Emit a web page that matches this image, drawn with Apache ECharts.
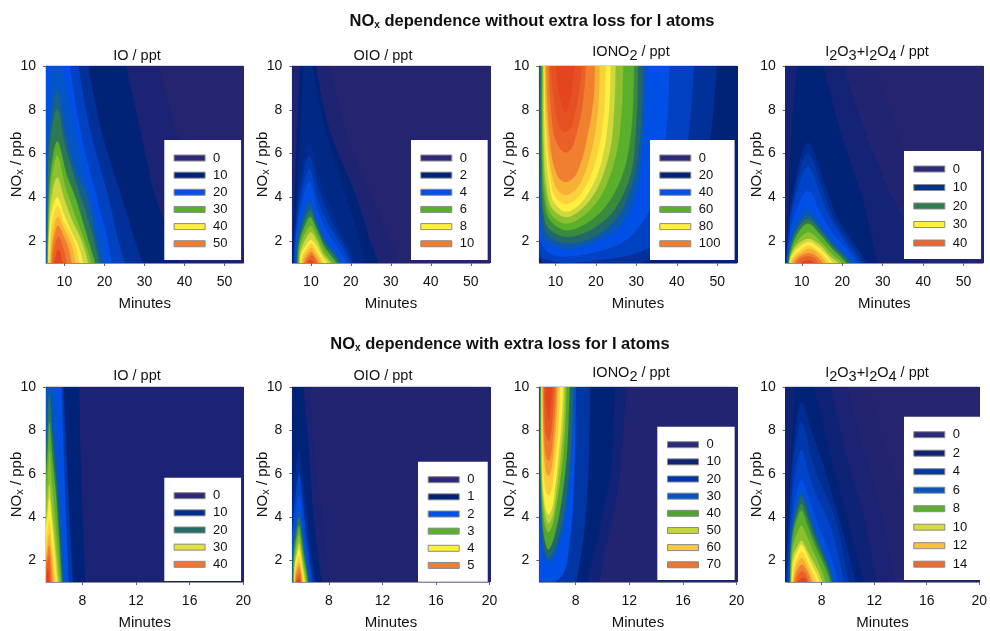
<!DOCTYPE html>
<html><head><meta charset="utf-8">
<style>html,body{margin:0;padding:0;background:#fff}#c{width:990px;height:631px}</style>
<script src="https://cdn.jsdelivr.net/npm/echarts@6/dist/echarts.min.js"></script>
</head><body><div id="c"></div>
<script>
// Colour ramp: share of the panel's peak value -> colour
const rampShare=[0,.04,.085,.125,.167,.25,.33,.38,.42,.46,.5,.56,.62,.667,.72,.78,.83,.9,1];
const rampColor=['#25246f','#23246f','#1c2374','#0f2376','#002277','#0038aa','#0050e8','#0a58b0','#22686a','#3a8a3e','#5ab02a','#8cc030','#d0d840','#fff040','#fbd23c','#f5b035','#f08030','#e96028','#e03a1a'];

// Contour outlines: [share of peak, minutes, NOx, minutes, NOx, ...]
const ioA=[
[.085,4,10.5,33.2,10.5,33.5,10,38.5,6.6,43,4.3,49,2.6,56,1.5,60,.5,4,.5],
[.167,4,10.5,25,10.5,25.4,10,29,7,32.7,4,37,2,39.5,.5,4,.5],
[.22,4,10.5,15.7,10.5,16,10,19.3,7,24.3,4,27.7,2,30.5,.5,4,.5],
[.28,4,10.5,13.2,10.5,13.5,10,16.5,7,21,4,23.5,2,26,.5,4,.5],
[.33,4,10.5,11.2,10.5,11.4,10,14,7,18,4,20.8,2,22.2,.5,4,.5],
[.36,6.4,10.5,6.6,10,6,7,5.6,4,5.4,.5,21,.5,19.6,2,16.5,4,12.6,7,9.3,10,9.1,10.5],
[.40,5.55,.5,5.65,3,6.2,7,8.2,8.9,10.2,7,12.6,5.3,15.8,4,18,2,20,.5],
[.44,5.65,.5,5.75,3,6.4,6.5,8.2,8.05,10,6.5,12.3,5,15,3.5,17.4,2,19.2,.5],
[.5,5.75,.5,5.85,2,6.5,5,8.2,6.55,10.6,5,12.7,4,16,2,18.5,.5],
[.56,5.85,.5,5.95,2,6.6,4.5,8.2,5.9,10.2,4.5,12.2,3.4,15,2,17.6,.5],
[.62,5.95,.5,6.05,2,6.7,3.9,8.2,4.9,10,3.9,11.8,3,14.3,2,16.6,.5],
[.667,6.05,.5,6.15,2,6.8,3.3,8.2,4,9.9,3.2,11.3,2.6,13.6,1.7,15.2,.5],
[.72,6.25,.5,6.35,1.5,7,2.9,8.3,3.6,9.8,2.9,10.5,2.7,12.6,1.9,14.2,.5],
[.78,6.45,.5,6.6,1.5,7.2,2.5,8.4,3.1,9.8,2.6,11.8,1.8,13.2,.5],
[.83,6.65,.5,6.8,1.4,7.4,2.2,8.4,2.7,9.6,2.3,11,1.7,12.2,.5],
[.9,6.95,.5,7.1,1.2,7.6,1.8,8.5,2.2,9.5,1.8,10.4,1.2,11.2,.5],
[.97,7.4,.5,7.6,1.1,8.5,1.6,9.4,1.1,10.2,.5]];
const oioA=[
[.07,4,10.5,14.5,10.5,14.75,10,18.5,7,25,4,29.7,2,33,.5,4,.5],
[.167,7.1,10.5,7.2,10,6.6,7,5.9,4,5.2,.5,28,.5,24.8,2,21.4,4,14.75,7,11.2,10,11,10.5],
[.19,8,10.5,8.1,10,7.3,7,6.4,4,5.5,.5,24,.5,21.5,2.5,18,4.5,13,7.5,10.5,10,10.3,10.5],
[.21,5.6,.5,5.8,2,7,4.5,9.6,6.55,12,5,15,3.5,20,1.5,22.3,.5],
[.25,5.7,.5,5.9,2,7.2,4.2,9.6,5.9,11.8,4.5,14.5,3.2,19.5,1.4,21.5,.5],
[.29,5.85,.5,6,2,7.4,3.9,9.6,5.3,11.7,3.9,14,2.9,18.8,1.4,20.7,.5],
[.33,6,.5,6.2,2,7.6,3.6,9.6,4.7,11.5,3.5,13.8,2.5,18,1.3,19.8,.5],
[.36,6.2,.5,6.4,2,7.8,3.2,9.6,3.95,11.5,3,13.8,2.1,17.4,1.2,19,.5],
[.40,6.35,.5,6.6,1.8,8,3,9.7,3.7,11.4,2.9,13.6,2,16.8,1.2,18.5,.5],
[.44,6.5,.5,6.8,1.8,8.1,2.8,9.8,3.4,11.4,2.7,13.4,1.9,16.4,1.2,18.2,.5],
[.5,6.65,.5,7,1.8,8.3,2.6,9.8,3.1,11.5,2.5,13.5,1.7,16.4,1,17.8,.5],
[.56,6.9,.5,7.2,1.6,8.4,2.3,9.9,2.7,11.5,2.2,13.3,1.5,15.4,1,16.5,.5],
[.62,7.1,.5,7.4,1.5,8.6,2.05,10,2.4,11.5,2,13,1.4,14.8,1,15.7,.5],
[.667,7.25,.5,7.6,1.4,8.8,1.8,10,2.05,11.4,1.75,12.8,1.3,14.3,.9,15.1,.5],
[.72,7.55,.5,7.8,1.3,8.9,1.65,10,1.9,11.3,1.6,12.6,1.2,14.5,.5],
[.78,7.85,.5,8.1,1.2,9.1,1.5,10.1,1.7,11.2,1.45,12.3,1.1,13.5,.5],
[.83,8.2,.5,8.4,1.1,9.3,1.35,10.1,1.5,11,1.3,11.9,1,12.8,.5],
[.9,8.5,.5,8.7,1,9.6,1.25,10.2,1.35,10.9,1.2,11.4,1,11.9,.5],
[.97,8.7,.5,9,.95,10,1.15,10.6,1,11.1,.5]];
const ionoA=[
[.22,5,10.5,5,1.5,7,1,10,.8,20,.85,33,1.1,42,2,46,4,48.5,7,50.2,10.5],
[.28,5,10.5,5.3,2,6.5,1.3,9,1.1,13,1.02,20,1.12,30,1.45,37,2.2,41,4.2,43,7,44.5,10.5],
[.33,5.5,10.5,5.6,3,6.5,1.9,9,1.4,13,1.3,20,1.5,27,2,32,3,36,5,37.6,7.5,38.3,10.5],
[.38,5.95,10.5,6,5,6.4,2.8,7.5,2,12.5,1.65,19,1.9,26,2.7,30,4.3,31.8,7,32.3,10.5],
[.42,6.2,10.5,6.3,5,6.8,3.2,8,2.3,12.5,1.9,19,2.15,25,3,29,4.6,31,7,31.7,10.5],
[.46,6.4,10.5,6.45,6,7,3.4,8.3,2.6,12.5,2.2,18,2.45,24,3.3,28.5,5,30,7.5,30.5,10.5],
[.5,6.6,10.5,6.7,6,7.2,4,8.5,3,12.5,2.5,17,2.75,22,3.5,26.5,5,28.7,7,29.5,10.5],
[.56,6.85,10.5,6.9,6,7.5,4.2,9,3.2,12.5,2.8,16.5,3.1,21,4,24.7,5.7,26.3,7.8,26.8,10.5],
[.62,7,10.5,7.1,6.5,7.7,4.6,9.2,3.5,12.5,3.1,16,3.4,20,4.3,23.3,6,24.5,8,24.9,10.5],
[.667,7.1,10.5,7.4,7,8.3,4.9,9.6,3.8,12.5,3.35,15.5,3.6,18.1,4.2,21,5.4,23,7.5,23.7,10.5],
[.72,7.25,10.5,7.6,7,8.6,5,10,4,12.5,3.7,15.3,3.95,17.7,4.6,20,5.7,21.9,7.7,22.5,10.5],
[.78,7.35,10.5,7.8,7.5,9,5.2,10.5,4.35,12.5,4.1,15,4.35,17,5,19,6.2,20.5,8,21,10.5],
[.83,7.6,10.5,8.1,8,9.4,5.6,11,4.85,12.5,4.7,14.5,4.9,16.3,5.6,18,6.9,19.4,8.5,19.8,10.5],
[.9,8.3,10.5,8.7,8.5,9.9,6.7,11.5,6.15,12.5,6.05,13.8,6.2,15.3,7,16.8,8.4,17.7,10.5],
[.94,8.7,10.5,9.3,9,10.4,7.6,11.6,7.05,12.5,7,13.8,7.2,15,8,16.1,9.2,16.7,10.5],
[.97,10,10.5,10.3,9.7,11.2,8.5,12.5,7.9,13.5,8.4,14.3,9.3,14.9,10.5]];
const i2oxA=[
[.06,4,10.5,27.9,10.5,28.1,10,35,6.2,42,3.8,48,2.3,55,1.3,60,.5,4,.5],
[.11,4,10.5,20.1,10.5,20.3,10,25.5,7,31,4.5,35,3,39,1,40,.5,4,.5],
[.167,8.7,10.5,8.8,10,7.5,7,6.8,4,6,.5,29,.5,28,1.5,24.8,4,19.5,7,15.3,10,15.1,10.5],
[.21,5.9,.5,6.2,1.5,7.6,4,11.5,6.5,15.5,4.7,19,3,24,1.6,28,.5],
[.25,6,.5,6.3,1.5,7.8,3.9,11.5,6,15,4.4,18,3,23,1.6,27,.5],
[.29,6.1,.5,6.4,1.5,8,3.7,11.5,5.4,15,3.9,17.5,2.9,22.5,1.5,26.2,.5],
[.33,6.2,.5,6.5,1.5,8.2,3.2,11.5,4.3,14.8,3.2,17.5,2.4,22,1.4,25,.5],
[.36,6.3,.5,6.6,1.4,8.4,2.8,11.5,3.5,14.6,2.8,17.5,2.1,22,1.2,24.6,.5],
[.40,6.4,.5,6.7,1.4,8.6,2.6,11.5,3.2,14.5,2.6,17.5,1.9,21.5,1.2,24.2,.5],
[.44,6.5,.5,6.8,1.4,8.7,2.5,11.5,3,14.5,2.5,17.5,1.8,21,1.15,23.5,.5],
[.5,6.6,.5,6.95,1.3,8.8,2.3,11.5,2.8,14.5,2.3,17.5,1.65,20.5,1.1,22.7,.5],
[.56,6.75,.5,7.1,1.3,8.9,2,11.6,2.4,14.5,2,17.5,1.4,19.7,1.05,21.7,.5],
[.62,6.9,.5,7.2,1.3,9,1.85,11.6,2.1,14.3,1.85,17,1.3,19,1,20.6,.5],
[.667,7,.5,7.3,1.2,9.2,1.7,11.7,1.95,14.2,1.7,16.8,1.2,19.7,.5],
[.72,7.2,.5,7.5,1.2,9.3,1.55,11.7,1.8,14,1.55,16.2,1.15,18.5,.5],
[.78,7.4,.5,7.8,1.15,9.6,1.45,11.8,1.65,13.9,1.45,15.6,1.1,17.3,.5],
[.83,7.9,.5,8.3,1.1,9.9,1.35,11.8,1.45,13.6,1.3,14.9,1.05,16,.5],
[.9,8.3,.5,8.8,1.05,10.2,1.25,11.9,1.3,13.2,1.2,14,1,14.9,.5],
[.97,9.3,.5,9.9,1,11,1.1,12,1.12,12.9,1,13.6,.5]];
const ioB=[
[.167,4,10.5,7.72,10.5,7.95,5,8.25,.5,4,.5],
[.25,4,10.5,6.55,10.5,6.88,6,7.32,.5,4,.5],
[.33,4,10.5,6.42,10.5,6.65,6,7,.5,4,.5],
[.36,5.35,10.5,5.98,10.5,6.3,6,6.75,.5,4,.5,4,6],
[.40,5.2,.5,5.2,5,5.38,8,5.54,10,5.75,8,6.2,5,6.62,.5],
[.44,5.2,.5,5.2,5,5.4,8,5.54,9.6,5.72,8,6.12,5,6.55,.5],
[.5,5.2,.5,5.2,5,5.42,7,5.54,8.4,5.72,7,6.03,5,6.5,.5],
[.56,5.15,.5,5.2,4,5.42,5.8,5.54,7,5.7,5.8,5.95,4,6.42,.5],
[.62,5.15,.5,5.2,3,5.42,4.6,5.54,5.5,5.7,4.4,5.92,3,6.3,.5],
[.667,5.15,.5,5.22,3,5.42,4.1,5.54,4.8,5.68,4,5.9,2.5,6.16,.5],
[.72,5.15,.5,5.25,2.5,5.42,3.4,5.54,3.9,5.67,3.2,5.85,2,6.06,.5],
[.78,5.15,.5,5.27,2,5.43,2.8,5.54,3.2,5.64,2.7,5.78,1.8,5.93,.5],
[.83,5.15,.5,5.28,1.8,5.43,2.4,5.52,2.7,5.62,2.3,5.7,1.6,5.82,.5],
[.9,5.15,.5,5.3,1.5,5.42,2,5.5,2.2,5.58,1.8,5.69,.5],
[.97,5.15,.5,5.33,1.2,5.45,1.6,5.52,1.2,5.57,.5]];
const oioB=[
[.085,4,10.5,6.55,10.5,6.83,7,7.45,4,8.05,.5,4,.5],
[.167,5.4,10.5,5.35,10,5.15,6,5.1,.5,7.55,.5,6.83,4,6.5,7,6.08,10,6.05,10.5],
[.21,5.2,.5,5.2,4,5.45,6,5.76,7.1,6,6,6.38,4,6.75,2,7.15,.5],
[.29,5.2,.5,5.24,3,5.5,5,5.76,6,5.98,5,6.25,3.5,6.6,1.8,6.9,.5],
[.33,5.22,.5,5.28,3,5.52,4.3,5.76,5,5.96,4.2,6.2,3,6.5,1.7,6.75,.5],
[.38,5.24,.5,5.3,2.5,5.55,3.8,5.76,4.4,5.95,3.7,6.15,2.7,6.42,1.5,6.63,.5],
[.44,5.28,.5,5.34,2.5,5.57,3.5,5.76,4,5.93,3.4,6.12,2.5,6.38,1.4,6.58,.5],
[.5,5.33,.5,5.38,2.2,5.58,3.1,5.76,3.6,5.92,3,6.1,2.2,6.35,1.3,6.52,.5],
[.56,5.37,.5,5.42,2,5.6,2.8,5.76,3.2,5.9,2.7,6.06,2,6.25,1.3,6.42,.5],
[.62,5.4,.5,5.44,1.8,5.62,2.45,5.76,2.8,5.9,2.4,6.03,1.8,6.2,1.2,6.33,.5],
[.667,5.42,.5,5.47,1.7,5.62,2.2,5.76,2.5,5.88,2.15,6,1.6,6.15,1.1,6.25,.5],
[.72,5.44,.5,5.49,1.6,5.63,2,5.76,2.2,5.87,1.95,5.98,1.5,6.18,.5],
[.78,5.46,.5,5.52,1.5,5.65,1.75,5.76,1.9,5.86,1.7,5.96,1.3,6.08,.5],
[.83,5.48,.5,5.54,1.3,5.66,1.55,5.76,1.7,5.85,1.5,5.93,1.2,6,.5],
[.9,5.5,.5,5.58,1.15,5.7,1.3,5.78,1.4,5.85,1.25,5.9,1,5.95,.5],
[.97,5.52,.5,5.6,1,5.72,1.15,5.78,1.15,5.82,1,5.88,.5]];
const ionoB=[
[.12,4,10.5,11.85,10.5,11.06,5,10.2,2.5,9.6,.5,4,.5],
[.167,4,10.5,10.95,10.5,10.56,6,9.2,2,8.8,.5,4,.5],
[.24,4,10.5,9.08,10.5,8.95,6,8.57,3,7.9,.5,4,.5],
[.33,4,10.5,8.02,10.5,7.9,6,7.58,3,7.08,1.4,6.3,.95,5.9,.9,5.1,1,4,1],
[.38,5.34,10.5,5.36,5,5.5,3,5.7,2.2,5.96,1.9,6.3,2.1,6.7,2.7,7.1,3.6,7.5,5.5,7.75,7.5,7.85,10.5],
[.42,5.37,10.5,5.39,5,5.5,3.2,5.7,2.4,5.96,2.1,6.3,2.35,6.7,3,7.1,4.1,7.5,6,7.72,8,7.83,10.5],
[.49,5.39,10.5,5.41,5.5,5.55,3.6,5.75,2.8,5.96,2.5,6.25,2.8,6.6,3.6,7,5,7.35,7,7.58,10.5],
[.56,5.42,10.5,5.44,6,5.58,4.3,5.78,3.5,5.98,3.3,6.25,3.6,6.55,4.5,6.9,6,7.2,8,7.33,10.5],
[.61,5.44,10.5,5.47,6.5,5.6,4.7,5.8,3.95,5.98,3.7,6.25,4,6.5,4.9,6.82,6.5,7.1,8.5,7.2,10.5],
[.667,5.46,10.5,5.49,7,5.62,5,5.82,4.3,5.98,4.1,6.22,4.4,6.47,5.4,6.75,7,7,9,7.08,10.5],
[.73,5.5,10.5,5.53,7.5,5.66,5.7,5.84,5.1,6,5,6.2,5.3,6.4,6.2,6.65,7.7,6.88,10.5],
[.8,5.55,10.5,5.58,8,5.72,6.4,5.88,5.95,6,5.9,6.18,6.2,6.35,7,6.55,8.5,6.7,10.5],
[.85,5.58,10.5,5.62,8.3,5.75,7,5.9,6.65,6,6.6,6.16,6.9,6.32,7.8,6.48,9,6.58,10.5],
[.92,5.62,10.5,5.68,8.7,5.8,7.8,5.98,7.5,6.14,7.8,6.28,8.7,6.46,10.5],
[.97,5.75,10.5,5.82,9.2,6,8.5,6.15,9.2,6.3,10.5]];
const i2oxB=[
[.04,4,10.5,11.4,10.5,12.1,8.6,13.4,6,15,3.7,17,2,20,1,22,.5,4,.5],
[.085,4,10.5,9.65,10.5,11.2,7,12.2,5,12.9,3,13.7,.5,4,.5],
[.125,4,10.5,8.5,10.5,9.8,7,11.2,4,12.3,.5,4,.5],
[.167,6,10.5,5.7,7,5.4,4,5.1,.5,11.4,.5,9.9,4,8.6,7,7.2,10.5],
[.21,5.2,.5,5.5,4,5.8,7,6.46,9.3,7.2,8,7.8,7,9.3,4,10.8,.5],
[.25,5.25,.5,5.55,4,5.9,6.8,6.46,8.4,7.1,7,7.6,6,9,4,10.2,.5],
[.29,5.35,.5,5.6,3.5,5.95,5.9,6.46,7.1,7,6,7.6,5,8.7,3.5,9.9,.5],
[.33,5.5,.5,5.65,3,6,4.9,6.46,5.7,7,4.9,7.8,3.5,8.8,2,9.45,.5],
[.38,5.52,.5,5.68,3,6.02,4.5,6.46,5.2,6.95,4.5,7.6,3.3,8.6,1.8,9.2,.5],
[.42,5.55,.5,5.7,3,6.03,4.3,6.46,4.95,6.9,4.3,7.5,3.2,8.5,1.7,9.05,.5],
[.46,5.57,.5,5.72,3,6.05,4,6.46,4.6,6.88,4,7.45,3,8.45,1.6,8.95,.5],
[.5,5.58,.5,5.75,2.8,6.07,3.8,6.46,4.3,6.86,3.7,7.4,2.8,8.35,1.5,8.85,.5],
[.56,5.62,.5,5.78,2.5,6.1,3.2,6.46,3.6,6.8,3.2,7.3,2.5,8,1.5,8.55,.5],
[.62,5.66,.5,5.82,2.2,6.12,2.6,6.46,2.9,6.78,2.6,7.2,2.1,7.8,1.4,8.3,.5],
[.667,5.68,.5,5.85,1.9,6.15,2.4,6.46,2.7,6.78,2.4,7.15,1.9,7.65,1.3,8.12,.5],
[.72,5.72,.5,5.9,1.7,6.18,2.15,6.46,2.4,6.75,2.15,7.1,1.7,7.5,1.2,7.9,.5],
[.78,5.76,.5,5.95,1.5,6.2,1.9,6.5,2.1,6.75,1.9,7.05,1.5,7.7,.5],
[.83,5.82,.5,6,1.3,6.25,1.65,6.5,1.8,6.75,1.65,7,1.35,7.45,.5],
[.9,5.95,.5,6.1,1.15,6.3,1.4,6.5,1.5,6.72,1.4,6.95,1.1,7.22,.5],
[.97,6.05,.5,6.2,1,6.45,1.15,6.65,1.2,6.85,1.05,7.02,.5]];

// Tick labels
const minutesTicksA=[10,20,30,40,50];
const minutesTicksB=[8,12,16,20];
const noxTicks=[2,4,6,8,10];

// Legend labels
const legendIOa=[0,10,20,30,40,50];
const legendOIOa=[0,2,4,6,8,10];
const legendIONOa=[0,20,40,60,80,100];
const legendI2Oa=[0,10,20,30,40];
const legendIOb=[0,10,20,30,40];
const legendOIOb=[0,1,2,3,4,5];
const legendIONOb=[0,10,20,30,40,50,60,70];
const legendI2Ob=[0,2,4,6,8,10,12,14];

const FONT='"Liberation Sans", Arial, sans-serif';
const rich={
 a:{fontFamily:FONT,fontSize:14.5,fontWeight:'normal',color:'#111'},
 d:{fontFamily:FONT,fontSize:14.5,fontWeight:'normal',color:'#111',padding:[8,0,0,0],verticalAlign:'bottom'}
};
const titleIO='{a|IO / ppt}', titleOIO='{a|OIO / ppt}',
 titleIONO='{a|IONO}{d|2}{a| / ppt}', titleI2O='{a|I}{d|2}{a|O}{d|3}{a|+I}{d|2}{a|O}{d|4}{a| / ppt}';

const panels=[
 {id:'a1',t:titleIO,tt:48,left:46,top:66,h:197,xr:[5.4,54.7],ticks:minutesTicksA,peak:60,base:0,c:ioA,lab:legendIOa,box:[164.3,140,76.4,120],cx:137},
 {id:'a2',t:titleOIO,tt:48,left:292.3,top:66,h:197,xr:[5.35,54.7],ticks:minutesTicksA,peak:12,base:0,c:oioA,lab:legendOIOa,box:[411,140,76.3,120],cx:383},
 {id:'a3',t:titleIONO,tt:40,left:539.3,top:66,h:197,xr:[6,54.8],ticks:minutesTicksA,peak:120,base:.167,c:ionoA,lab:legendIONOa,box:[650,140,84.3,120],cx:631},
 {id:'a4',t:titleI2O,tt:40,left:785.7,top:66,h:197,xr:[6,54.8],ticks:minutesTicksA,peak:45,base:0,c:i2oxA,lab:legendI2Oa,box:[904,151,76.7,108],cx:877},
 {id:'b1',t:titleIO,tt:368,left:46,top:387,h:197.7,xr:[5.29,20],ticks:minutesTicksB,peak:47,base:.085,c:ioB,lab:legendIOb,box:[164.3,477.7,76.4,103.3],cx:137},
 {id:'b2',t:titleOIO,tt:368,left:292.3,top:387,h:197.7,xr:[5.26,20],ticks:minutesTicksB,peak:6,base:.06,c:oioB,lab:legendOIOb,box:[418,461.7,69.3,120],cx:383},
 {id:'b3',t:titleIONO,tt:361,left:539.3,top:387,h:197.7,xr:[5.29,20],ticks:minutesTicksB,peak:82,base:.06,c:ionoB,lab:legendIONOb,box:[657.3,426.7,77,153.3],cx:631},
 {id:'b4',t:titleI2O,tt:361,left:785.7,top:387,h:197.7,xr:[5.26,20],ticks:minutesTicksB,peak:16,base:.02,c:i2oxB,lab:legendI2Ob,box:[904,416.7,76.7,163.3],cx:877}
];

function hex(c){return [1,3,5].map(i=>parseInt(c.substr(i,2),16));}
function ramp(s){
 s=Math.min(1,Math.max(0,s));
 for(let i=1;i<rampShare.length;i++){
  if(s<=rampShare[i]){
   const t=(s-rampShare[i-1])/(rampShare[i]-rampShare[i-1]);
   const a=hex(rampColor[i-1]),b=hex(rampColor[i]);
   return 'rgb('+a.map((v,k)=>Math.round(v+(b[k]-v)*t)).join(',')+')';
  }
 }
 return rampColor[rampColor.length-1];
}
// Draw an outline as a curve in pixel space; vertices outside the plot are plain corners
function curve(px,out){
 const n=px.length,res=[];
 const dist=(a,b)=>Math.sqrt(Math.hypot(a[0]-b[0],a[1]-b[1]))||1e-6;
 const tan=(p0,p1,p2,d01,d12)=>[0,1].map(k=>(p1[k]-p0[k])/d01-(p2[k]-p0[k])/(d01+d12)+(p2[k]-p1[k])/d12);
 for(let i=0;i<n;i++){
  const i0=(i-1+n)%n,i2=(i+1)%n,i3=(i+2)%n;
  const p0=px[i0],p1=px[i],p2=px[i2],p3=px[i3];
  const d01=dist(p0,p1),d12=dist(p1,p2),d23=dist(p2,p3);
  let c1,c2;
  if(out[i]) c1=[p1[0]+(p2[0]-p1[0])/3,p1[1]+(p2[1]-p1[1])/3];
  else {const m=tan(p0,p1,p2,d01,d12);c1=[p1[0]+m[0]*d12/3,p1[1]+m[1]*d12/3];}
  if(out[i2]) c2=[p2[0]-(p2[0]-p1[0])/3,p2[1]-(p2[1]-p1[1])/3];
  else {const m=tan(p1,p2,p3,d12,d23);c2=[p2[0]-m[0]*d12/3,p2[1]-m[1]*d12/3];}
  const steps=(out[i]&&out[i2])?1:14;
  for(let s=0;s<steps;s++){
   const t=s/steps,u=1-t;
   res.push([0,1].map(k=>u*u*u*p1[k]+3*u*u*t*c1[k]+3*u*t*t*c2[k]+t*t*t*p2[k]));
  }
 }
 return res;
}
function bandSeries(name,gi,pts,color,z,xr){
 const out=pts.map(p=>p[1]>=10.4||p[1]<=.6||p[0]<xr[0]-.5);
 return {type:'custom',name,xAxisIndex:gi,yAxisIndex:gi,coordinateSystem:'cartesian2d',clip:true,silent:true,z:2,
  data:pts,encode:{x:0,y:1},
  renderItem:(params,api)=>{
   if(params.dataIndex!==0) return null;
   return {type:'polygon',z2:z,shape:{points:curve(pts.map(p=>api.coord(p)),out)},style:{fill:color,stroke:color,lineWidth:.3}};
  }};
}
const grid=[],xAxis=[],yAxis=[],series=[],legend=[],title=[];
panels.forEach((p,gi)=>{
 grid.push({left:p.left,top:p.top,width:197.3,height:p.h,show:true,borderColor:'#a4a4b4',borderWidth:1,backgroundColor:'transparent',containLabel:false});
 xAxis.push({type:'value',gridIndex:gi,min:p.xr[0],max:p.xr[1],name:'Minutes',nameLocation:'middle',nameGap:33,
  nameTextStyle:{fontFamily:FONT,fontSize:15,color:'#111'},
  splitLine:{show:false},axisLine:{show:true,onZero:false,lineStyle:{color:'#8c8c9c',width:1}},
  axisTick:{show:true,length:3,customValues:p.ticks,lineStyle:{color:'#666'}},
  axisLabel:{customValues:p.ticks,fontFamily:FONT,fontSize:14,color:'#111',margin:12,hideOverlap:false,showMinLabel:true,showMaxLabel:true}});
 yAxis.push({type:'value',gridIndex:gi,min:1,max:10,name:'{a|NO}{s|x}{a| / ppb}',nameLocation:'middle',nameGap:21,nameRotate:90,nameMoveOverlap:false,
  nameTextStyle:{rich:{a:{fontFamily:FONT,fontSize:15,color:'#111',lineHeight:16},s:{fontFamily:FONT,fontSize:11,color:'#111',lineHeight:12,padding:[6,0,0,0],verticalAlign:'bottom'}}},
  splitLine:{show:false},axisLine:{show:true,onZero:false,lineStyle:{color:'#8c8c9c',width:1}},
  axisTick:{show:true,length:3,customValues:noxTicks,lineStyle:{color:'#666'}},
  axisLabel:{customValues:noxTicks,fontFamily:FONT,fontSize:14,color:'#111',margin:10,showMaxLabel:true}});
 // base fill and nested contour bands, lowest first
 const all=[[p.base,0,-5,100,-5,100,20,0,20]].concat(p.c);
 const shares=all.map(c=>c[0]);
 const legendName={};
 p.lab.forEach(v=>{
  const s=v/p.peak; let best=0,bd=9;
  shares.forEach((q,i)=>{const d=Math.abs(q-s); if(d<bd&&!legendName[i]){bd=d;best=i;}});
  legendName[best]=p.id+'|'+v;
 });
 all.forEach((c,i)=>{
  const pts=[]; for(let k=1;k<c.length;k+=2) pts.push([c[k],c[k+1]]);
  series.push(bandSeries(legendName[i]||(p.id+'-band-'+i),gi,pts,ramp(c[0]),i,p.xr));
 });
 const n=p.lab.length;
 const pitch=(p.id==='a4'||p.id==='b4')?18.5:17.15;
 const padTop=11, padLeft=(p.id==='b2'||p.id==='b3')?9.7:9.3;
 const digits=String(Math.max(...p.lab)).length;
 const textRight=Math.max(0,p.box[2]-padLeft-31-5-3-digits*7.3-2);
 legend.push({orient:'vertical',left:p.box[0],top:p.box[1],selectedMode:false,
  backgroundColor:'#fff',borderWidth:0,borderRadius:0,itemWidth:31,itemHeight:6,itemGap:pitch-14,
  padding:[padTop,2,Math.max(0,p.box[3]-padTop-14*n-(pitch-14)*(n-1)),padLeft],
  textStyle:{fontFamily:FONT,fontSize:13,color:'#111',lineHeight:14,padding:[0,textRight,0,3]},
  formatter:nm=>nm.split('|')[1],
  data:p.lab.map(v=>({name:p.id+'|'+v,icon:'rect',itemStyle:{color:v===0?'#2e2a7a':ramp(v/p.peak),borderColor:'#8a8a8a',borderWidth:1}}))});
 title.push({text:p.t,left:p.cx,top:p.tt,textAlign:'center',padding:0,textStyle:{rich}});
});
const rb={b:{fontFamily:FONT,fontSize:16.5,fontWeight:'bold',color:'#111',lineHeight:18},s:{fontFamily:FONT,fontSize:10,fontWeight:'bold',color:'#111',lineHeight:11,padding:[7,0,0,0],verticalAlign:'bottom'}};
title.push({text:'{b|NO}{s|x}{b| dependence without extra loss for I atoms}',left:532,top:12,textAlign:'center',padding:0,textStyle:{rich:rb}});
title.push({text:'{b|NO}{s|x}{b| dependence with extra loss for I atoms}',left:500,top:335,textAlign:'center',padding:0,textStyle:{rich:rb}});

const chart=echarts.init(document.getElementById('c'),null,{renderer:'canvas'});
chart.setOption({animation:false,backgroundColor:'#fff',title,grid,xAxis,yAxis,series,legend});
</script></body></html>
